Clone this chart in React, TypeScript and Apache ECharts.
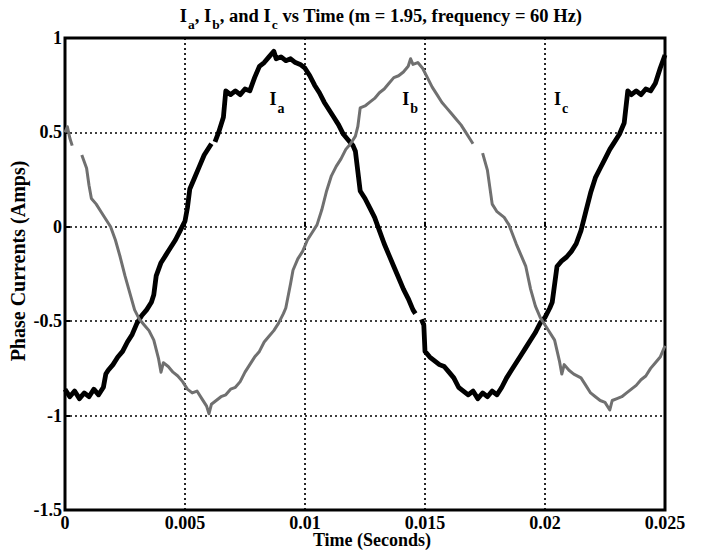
import React, { useEffect, useRef } from 'react';
import * as echarts from 'echarts';

// Phase a current (black trace): time in milliseconds, current in amps.
// null entries leave a small break in the trace.
const iaTimeMs = [
  0.0, 0.2, 0.4, 0.6, 0.8, 1.0, 1.2, 1.4, 1.6, 1.7, 1.8, 2.0, 2.2, 2.4, 2.6, 2.8, 3.0, 3.2, 3.4, 3.6,
  3.7, 3.8, 4.0, 4.2, 4.4, 4.6, 4.8, 5.0, 5.1, 5.2, 5.4, 5.6, 5.8, 6.0, 6.1, 6.15, 6.25, 6.4, 6.6, 6.7,
  6.9, 7.1, 7.3, 7.5, 7.7, 7.9, 8.1, 8.3, 8.5, 8.7, 8.8, 9.0, 9.2, 9.4, 9.6, 9.8, 10.0, 10.2, 10.4, 10.6,
  10.8, 11.0, 11.2, 11.4, 11.6, 11.8, 12.0, 12.1, 12.3, 12.5, 12.7, 12.9, 13.1, 13.3, 13.5, 13.7, 13.9, 14.1, 14.3, 14.5,
  14.6, 14.7, 14.85, 14.95, 15.0, 15.2, 15.4, 15.6, 15.8, 16.0, 16.2, 16.4, 16.6, 16.8, 17.0, 17.2, 17.4, 17.6, 17.8, 18.0,
  18.2, 18.4, 18.6, 18.8, 19.0, 19.2, 19.4, 19.6, 19.8, 20.0, 20.2, 20.3, 20.5, 20.7, 20.9, 21.1, 21.3, 21.5, 21.7, 21.9,
  22.1, 22.3, 22.5, 22.7, 22.9, 23.1, 23.3, 23.45, 23.6, 23.8, 24.0, 24.2, 24.4, 24.6, 24.8, 25.0,
];
const iaAmps = [
  -0.86, -0.90, -0.87, -0.91, -0.88, -0.90, -0.86, -0.89, -0.85, -0.78, -0.76, -0.73, -0.69, -0.66, -0.61, -0.57, -0.51, -0.47, -0.44, -0.40,
  -0.36, -0.26, -0.19, -0.15, -0.11, -0.07, -0.02, 0.03, 0.10, 0.20, 0.26, 0.32, 0.38, 0.42, 0.44, null, 0.45, 0.50, 0.58, 0.72,
  0.70, 0.72, 0.70, 0.73, 0.72, 0.79, 0.85, 0.87, 0.90, 0.93, 0.89, 0.90, 0.88, 0.89, 0.87, 0.86, 0.84, 0.80, 0.75, 0.71,
  0.66, 0.62, 0.58, 0.54, 0.49, 0.46, 0.43, 0.40, 0.19, 0.15, 0.10, 0.05, -0.02, -0.09, -0.15, -0.21, -0.27, -0.33, -0.38, -0.44,
  -0.46, null, -0.49, -0.52, -0.66, -0.69, -0.71, -0.73, -0.74, -0.77, -0.80, -0.85, -0.87, -0.89, -0.87, -0.91, -0.88, -0.90, -0.87, -0.89,
  -0.85, -0.80, -0.76, -0.72, -0.68, -0.64, -0.60, -0.56, -0.51, -0.48, -0.43, -0.40, -0.21, -0.18, -0.16, -0.13, -0.09, -0.02, 0.08, 0.18,
  0.26, 0.31, 0.36, 0.41, 0.45, 0.49, 0.55, 0.72, 0.70, 0.72, 0.70, 0.73, 0.72, 0.76, 0.84, 0.91,
];

// Phase b current (grey trace)
const ibTimeMs = [
  0.0, 0.1, 0.2, 0.3, 0.5, 0.7, 0.9, 1.0, 1.1, 1.3, 1.5, 1.7, 1.9, 2.1, 2.3, 2.5, 2.7, 2.9, 3.1, 3.3,
  3.5, 3.7, 3.9, 4.0, 4.1, 4.3, 4.5, 4.7, 4.9, 5.1, 5.3, 5.5, 5.7, 5.9, 6.0, 6.1, 6.3, 6.5, 6.7, 6.9,
  7.1, 7.3, 7.5, 7.7, 7.9, 8.1, 8.3, 8.5, 8.7, 8.9, 9.1, 9.2, 9.4, 9.5, 9.7, 9.9, 10.1, 10.3, 10.5, 10.7,
  10.9, 11.1, 11.3, 11.5, 11.7, 11.9, 12.1, 12.2, 12.3, 12.5, 12.7, 12.9, 13.1, 13.3, 13.5, 13.7, 13.9, 14.1, 14.3, 14.4,
  14.5, 14.7, 14.9, 15.1, 15.3, 15.5, 15.7, 15.9, 16.1, 16.3, 16.5, 16.7, 16.9, 17.0, 17.2, 17.4, 17.6, 17.8, 18.0, 18.3,
  18.5, 18.8, 19.0, 19.2, 19.4, 19.6, 19.8, 20.0, 20.2, 20.4, 20.6, 20.7, 20.8, 21.0, 21.2, 21.5, 21.7, 21.9, 22.1, 22.3,
  22.5, 22.7, 22.8, 23.0, 23.2, 23.4, 23.6, 23.8, 24.0, 24.2, 24.4, 24.6, 24.8, 25.0,
];
const ibAmps = [
  0.50, 0.53, 0.47, 0.43, null, 0.38, 0.31, 0.22, 0.15, 0.12, 0.08, 0.04, 0.00, -0.07, -0.16, -0.26, -0.35, -0.44, -0.49, -0.52,
  -0.55, -0.60, -0.70, -0.77, -0.72, -0.74, -0.77, -0.79, -0.82, -0.86, -0.88, -0.87, -0.91, -0.95, -0.99, -0.94, -0.92, -0.90, -0.89, -0.86,
  -0.85, -0.82, -0.77, -0.73, -0.69, -0.66, -0.61, -0.58, -0.55, -0.51, -0.46, -0.43, -0.30, -0.23, -0.17, -0.13, -0.07, -0.03, 0.01, 0.09,
  0.19, 0.27, 0.32, 0.36, 0.41, 0.44, 0.48, 0.53, 0.63, 0.64, 0.66, 0.68, 0.71, 0.73, 0.76, 0.79, 0.80, 0.82, 0.85, 0.89,
  0.86, 0.87, 0.84, 0.79, 0.74, 0.70, 0.66, 0.63, 0.60, 0.57, 0.54, 0.50, 0.46, 0.44, null, 0.39, 0.30, 0.12, 0.08, 0.05,
  0.01, -0.09, -0.15, -0.21, -0.33, -0.42, -0.48, -0.52, -0.56, -0.60, -0.71, -0.78, -0.73, -0.76, -0.78, -0.80, -0.84, -0.88, -0.90, -0.92,
  -0.93, -0.97, -0.92, -0.91, -0.90, -0.88, -0.86, -0.84, -0.81, -0.79, -0.75, -0.72, -0.69, -0.63,
];

// Axis ranges and tick steps
const timeRange = [0, 0.025];
const timeStep = 0.005;
const currentRange = [-1.5, 1];
const currentStep = 0.5;

// In-plot trace labels (time in seconds, current in amps)
const traceLabels = [
  { sub: 'a', t: 0.00883, v: 0.656 },
  { sub: 'b', t: 0.01438, v: 0.656 },
  { sub: 'c', t: 0.02067, v: 0.656 },
];

const SERIF = "'Liberation Serif', 'Times New Roman', 'DejaVu Serif', serif";

const toPairs = (times: number[], values: (number | null)[]) =>
  times.map((ms, i) => [ms / 1000, values[i] === null ? '-' : values[i]]);

const fmtTick = (v: number) => String(parseFloat(v.toFixed(4)));

// Rich-text styles for a letter with a subscript: the subscript sits at the
// bottom of a taller line box, which drops it below the main baseline.
const subRich = (main: number, sub: number, subLine: number) => ({
  m: { fontFamily: SERIF, fontWeight: 'bold', fontSize: main, lineHeight: main, verticalAlign: 'top', fill: '#000' },
  s: { fontFamily: SERIF, fontWeight: 'bold', fontSize: sub, lineHeight: subLine, verticalAlign: 'bottom', padding: [0, 0, 0, 1], fill: '#000' },
});

export default function App() {
  const ref = useRef<HTMLDivElement>(null);

  useEffect(() => {
    if (!ref.current) return;
    const chart = echarts.init(ref.current, undefined, { renderer: 'svg' });

    const tickLabel = {
      color: '#000',
      fontFamily: SERIF,
      fontWeight: 'bold' as const,
      fontSize: 18,
    };
    const dotted = { color: '#000', type: [2, 3] as number[], width: 1.7 };

    chart.setOption({
      animation: false,
      backgroundColor: '#fff',
      grid: {
        left: 65,
        right: 37,
        top: 38,
        bottom: 40,
        show: true,
        borderColor: '#000',
        borderWidth: 3,
        backgroundColor: 'transparent',
      },
      xAxis: {
        type: 'value',
        min: timeRange[0],
        max: timeRange[1],
        interval: timeStep,
        axisLine: { show: false },
        axisTick: { show: true, inside: true, length: 5, lineStyle: { color: '#000', width: 2 } },
        axisLabel: { ...tickLabel, margin: 4, formatter: (v: number) => fmtTick(v) },
        splitLine: { show: true, lineStyle: dotted },
      },
      yAxis: {
        type: 'value',
        min: currentRange[0],
        max: currentRange[1],
        interval: currentStep,
        axisLine: { show: false },
        axisTick: { show: true, inside: true, length: 5, lineStyle: { color: '#000', width: 2 } },
        axisLabel: { ...tickLabel, margin: 3, formatter: (v: number) => fmtTick(v) },
        splitLine: { show: true, lineStyle: dotted },
      },
      series: [
        {
          name: 'Ia',
          type: 'line',
          data: toPairs(iaTimeMs, iaAmps),
          showSymbol: false,
          connectNulls: false,
          lineStyle: { color: '#000', width: 4.8, join: 'round' },
          z: 3,
        },
        {
          name: 'Ib',
          type: 'line',
          data: toPairs(ibTimeMs, ibAmps),
          showSymbol: false,
          connectNulls: false,
          lineStyle: { color: '#707070', width: 3, join: 'round' },
          z: 4,
        },
      ],
    } as any);

    // Trace labels placed through the chart's own coordinate system
    const labelGraphics = traceLabels.map((l) => {
      const [px, py] = chart.convertToPixel({ gridIndex: 0 }, [l.t, l.v]) as number[];
      return {
        type: 'text',
        x: px,
        y: py - 13,
        z: 10,
        style: {
          text: `{m|I}{s|${l.sub}}`,
          align: 'center',
          verticalAlign: 'top',
          rich: subRich(18, 14, 26),
        },
      };
    });

    chart.setOption({
      graphic: [
        {
          type: 'text',
          x: 381,
          y: 6,
          style: {
            text: '{m|I}{s|a}{m|, I}{s|b}{m|, and I}{s|c}{m| vs Time (m = 1.95, frequency = 60 Hz)}',
            align: 'center',
            verticalAlign: 'top',
            rich: subRich(18.5, 13.5, 25),
          },
        },
        {
          type: 'text',
          x: 372,
          y: 540,
          style: {
            text: 'Time (Seconds)',
            align: 'center',
            verticalAlign: 'middle',
            fontFamily: SERIF,
            fontWeight: 'bold',
            fontSize: 18,
            fill: '#000',
          },
        },
        {
          type: 'text',
          x: 18,
          y: 261,
          rotation: Math.PI / 2,
          style: {
            text: 'Phase Currents (Amps)',
            align: 'center',
            verticalAlign: 'middle',
            fontFamily: SERIF,
            fontWeight: 'bold',
            fontSize: 20,
            fill: '#000',
          },
        },
        ...labelGraphics,
      ],
    } as any);

    return () => chart.dispose();
  }, []);

  return <div ref={ref} style={{ width: 702, height: 550, position: 'absolute', left: 0, top: 0 }} />;
}
